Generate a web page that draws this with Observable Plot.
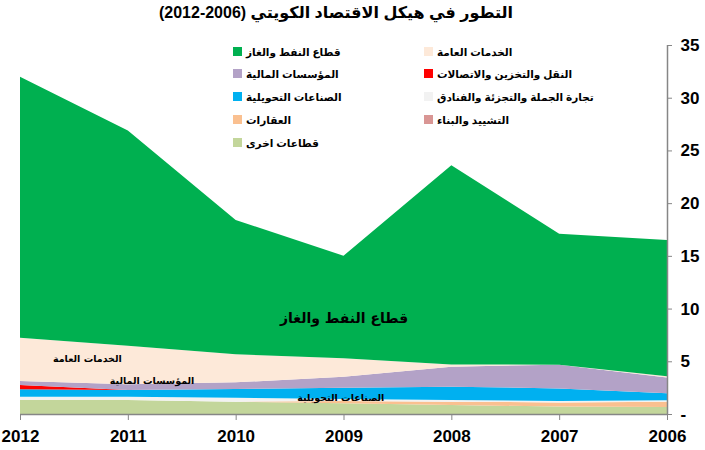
<!DOCTYPE html>
<html>
<head>
<meta charset="utf-8">
<script src="https://cdn.jsdelivr.net/npm/d3@7"></script>
<script src="https://cdn.jsdelivr.net/npm/@observablehq/plot@0.6"></script>
<style>
  html, body { margin: 0; padding: 0; background: #fff; }
  #wrap { position: relative; width: 705px; height: 450px; overflow: hidden; font-family: "Liberation Sans", "DejaVu Sans", sans-serif; }
  #title { position: absolute; left: 0; top: 3px; width: 672px; text-align: center; font-weight: bold; font-size: 16px; direction: rtl; }
  .leg { position: absolute; height: 14px; line-height: 14px; font-size: 10.5px; font-weight: bold; white-space: nowrap; }
  .leg .sw { position: absolute; left: 0; top: 2px; width: 9px; height: 9px; }
  .leg .tx { position: absolute; left: 13px; top: 0; direction: rtl; unicode-bidi: isolate; }
  #chart { position: absolute; left: 0; top: 0; }
  #chart svg [aria-label*="axis"] line, #chart svg [aria-label*="axis"] path { stroke: #868686; }
</style>
</head>
<body>
<div id="wrap">
  <div id="chart"></div>
  <div id="title"></div>
</div>
<script>
// ---- data ----
const titleText = "التطور في هيكل الاقتصاد الكويتي (2006-2012)";
const years = [2012, 2011, 2010, 2009, 2008, 2007, 2006];
// sectors listed from the bottom of the stack to the top
const sectors = [
  "قطاعات اخرى",
  "التشييد والبناء",
  "العقارات",
  "تجارة الجملة والتجزئة والفنادق",
  "الصناعات التحويلية",
  "النقل والتخزين والاتصالات",
  "المؤسسات المالية",
  "الخدمات العامة",
  "قطاع النفط والغاز"
];
const sectorColors = ["#C3D69B", "#D99694", "#FAC090", "#F2F2F2", "#00B0F0", "#FF0000", "#B3A2C7", "#FDE9D9", "#00B050"];
const otherVals        = [1.33, 1.33, 1.17, 1.03, 0.85, 0.70, 0.66];
const constructionVals = [0, 0, 0, 0, 0, 0, 0];
const realEstateVals   = [0, 0, 0, 0.20, 0.32, 0.40, 0.51];
const wholesaleVals    = [0.31, 0.31, 0.38, 0.19, 0.16, 0.13, 0.13];
const manufacturingVals= [0.70, 0.64, 0.82, 1.08, 1.26, 1.20, 0.66];
const transportVals    = [0.41, 0, 0, 0, 0, 0, 0];
const financialVals    = [0.38, 0.54, 0.63, 1.04, 1.90, 2.25, 1.50];
const publicVals       = [4.11, 3.66, 2.66, 1.74, 0.20, 0, 0.12];
const oilVals          = [24.76, 20.42, 12.74, 9.72, 18.91, 12.42, 12.92];
const yTicks = [0, 5, 10, 15, 20, 25, 30, 35];
// legend order (rows, first column then second)
const legendLeft  = ["قطاع النفط والغاز", "المؤسسات المالية", "الصناعات التحويلية", "العقارات", "قطاعات اخرى"];
const legendRight = ["الخدمات العامة", "النقل والتخزين والاتصالات", "تجارة الجملة والتجزئة والفنادق", "التشييد والبناء"];
// in-chart labels
const annotations = [
  {text: "قطاع النفط والغاز", year: 2009.0, value: 9.1, size: 14},
  {text: "الخدمات العامة", year: 2011.38, value: 5.3, size: 9.5},
  {text: "المؤسسات المالية", year: 2010.78, value: 3.2, size: 9.5},
  {text: "الصناعات التحويلية", year: 2009.03, value: 1.6, size: 9.5}
];

// ---- build table ----
const valueSeries = [otherVals, constructionVals, realEstateVals, wholesaleVals, manufacturingVals, transportVals, financialVals, publicVals, oilVals];
const rows = [];
sectors.forEach((s, i) => years.forEach((y, j) => rows.push({sector: s, year: y, value: valueSeries[i][j]})));

const chart = Plot.plot({
  width: 705,
  height: 450,
  marginTop: 45,
  marginBottom: 36,
  marginLeft: 20,
  marginRight: 38,
  style: {fontFamily: "'Liberation Sans', 'DejaVu Sans', sans-serif", fontSize: "17px", fontWeight: "bold", color: "#000", background: "transparent"},
  x: {domain: [2012, 2006], ticks: years, tickFormat: d => String(d), tickSize: 6, tickPadding: 9, label: null},
  y: {domain: [0, 35], ticks: yTicks, tickFormat: d => d === 0 ? "-" : String(d), axis: "right", tickSize: 4, tickPadding: 9, label: null},
  color: {domain: sectors, range: sectorColors},
  marks: [
    Plot.areaY(rows, Plot.stackY({x: "year", y: "value", z: "sector", fill: "sector", order: sectors})),
    Plot.ruleY([0], {stroke: "#868686", strokeWidth: 1.5}),
    Plot.ruleX([2006], {y1: 0, y2: 35, stroke: "#868686", strokeWidth: 1.5}),
    Plot.text(annotations, {x: "year", y: "value", text: "text", fill: "#000", fontWeight: "bold"})
  ]
});
document.getElementById("chart").appendChild(chart);
d3.select(chart).selectAll('g[aria-label="text"] text').each(function(d, i) {
  this.setAttribute("font-size", annotations[i].size);
  this.style.fontSize = annotations[i].size + "px";
  this.setAttribute("font-family", "'DejaVu Sans', sans-serif");
});

document.getElementById("title").textContent = titleText;

// legend
const wrap = document.getElementById("wrap");
function addLegend(list, left, tops) {
  list.forEach((name, i) => {
    const k = sectors.indexOf(name);
    const el = document.createElement("div");
    el.className = "leg";
    el.style.left = left + "px";
    el.style.top = tops[i] + "px";
    const sw = document.createElement("span");
    sw.className = "sw";
    sw.style.background = sectorColors[k];
    const tx = document.createElement("span");
    tx.className = "tx";
    tx.textContent = name;
    el.appendChild(sw); el.appendChild(tx);
    wrap.appendChild(el);
  });
}
const rowTops = [45, 67, 90, 113, 136];
addLegend(legendLeft, 233, rowTops);
addLegend(legendRight, 424, rowTops);
</script>
</body>
</html>
